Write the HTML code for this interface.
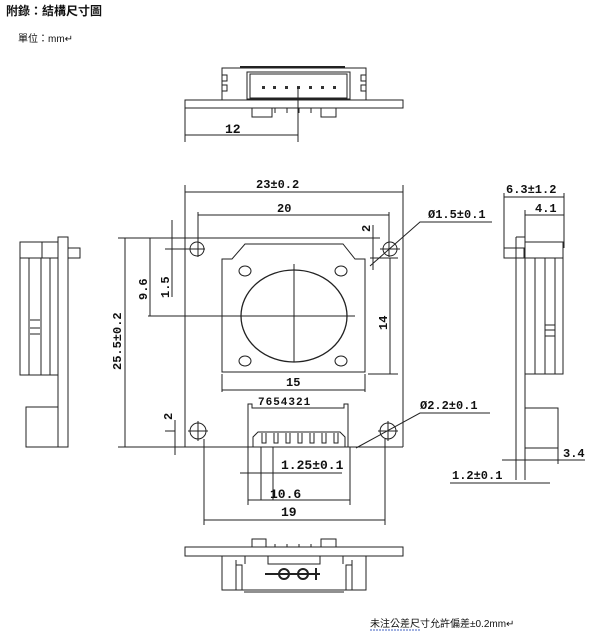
<!DOCTYPE html>
<html><head><meta charset="utf-8"><style>
body{margin:0;background:#fff;width:600px;height:635px;overflow:hidden}
svg{display:block}
text{font-family:"Liberation Serif","Noto Serif CJK SC",serif;fill:#111}
.d{font-family:"Liberation Mono","Noto Sans CJK SC",monospace;font-weight:bold;font-size:12px}
</style></head><body>
<svg width="600" height="635" viewBox="0 0 600 635" fill="none" stroke="#222" stroke-width="1">
<text x="6" y="15" style="font-family:'Liberation Sans','Noto Sans CJK TC',sans-serif;font-weight:bold;font-size:12px" stroke="none">附錄：結構尺寸圖</text>
<text x="18" y="42" style="font-family:'Liberation Sans','Noto Sans CJK TC',sans-serif;font-size:10px" stroke="none">單位：mm↵</text>

<!-- top view -->
<rect x="185" y="100" width="218" height="8"/>
<path d="M222 100V68h144v32 M222 75h5v6h-5 M366 75h-5v6h5 M222 85h5v6h-5 M366 85h-5v6h5"/>
<line x1="240" y1="67" x2="345" y2="67" stroke-width="2"/>
<rect x="247" y="72" width="103" height="27"/><rect x="250" y="74" width="97" height="24"/>
<g fill="#333" stroke="none"><rect x="262" y="86" width="3" height="3"/><rect x="273" y="86" width="3" height="3"/><rect x="285" y="86" width="3" height="3"/><rect x="297" y="86" width="3" height="3"/><rect x="309" y="86" width="3" height="3"/><rect x="321" y="86" width="3" height="3"/><rect x="333" y="86" width="3" height="3"/></g>
<path d="M252 108v9h20v-9 M321 108v9h15v-9 M275 108v5 M287 108v5 M299 108v5 M311 108v5"/>
<path d="M185 108v34 M298 87v55 M185 135h113"/>
<text x="225" y="133" class="d" stroke="none" style="font-size:13px">12</text>

<!-- main view -->
<path d="M185 185v262 M403 185v262 M118 238h262 M118 447h285"/>
<path d="M185 192h218"/><text x="256" y="188" class="d" stroke="none">23±0.2</text>
<path d="M198 212v45 M389 212v45 M198 215h191"/><text x="277" y="212" class="d" stroke="none">20</text>
<circle cx="197" cy="249" r="7"/><circle cx="390" cy="249" r="7"/>
<circle cx="198" cy="431" r="8"/><circle cx="388" cy="431" r="8"/>
<path d="M188 431h20 M198 421v20 M378 431h20 M388 421v20 M165 249h40 M380 249h20"/>
<path d="M222 372V259h10l13-15h98l12 15h10v113z"/>
<ellipse cx="245" cy="271" rx="6" ry="5"/><ellipse cx="341" cy="271" rx="6" ry="5"/>
<ellipse cx="245" cy="361" rx="6" ry="5"/><ellipse cx="341" cy="361" rx="6" ry="5"/>
<ellipse cx="294" cy="316" rx="53" ry="46" stroke-width="1.3"/>
<path d="M148 316h207 M294 264v98"/>
<path d="M125 238v209"/><text class="d" stroke="none" transform="translate(121,370) rotate(-90)">25.5±0.2</text>
<path d="M150 238v78"/><text class="d" stroke="none" transform="translate(147,300) rotate(-90)">9.6</text>
<path d="M172 220v77"/><text class="d" stroke="none" transform="translate(169,298) rotate(-90)">1.5</text>
<path d="M370 258h28 M368 374h30 M390 258v116"/><text class="d" stroke="none" transform="translate(387,330) rotate(-90)">14</text>
<path d="M222 374v18 M365 374v18 M222 390h143"/><text x="286" y="386" class="d" stroke="none">15</text>
<path d="M373 225v45"/><text class="d" stroke="none" transform="translate(370,232) rotate(-90)">2</text>
<path d="M370 266L420 222h72"/><text x="428" y="218" class="d" stroke="none">Ø1.5±0.1</text>
<path d="M248 447v-43h4v4h92v-4h4v43 M253 447v-10l5-5h82l5 5v10"/>
<path d="M262 433v10h4v-10 M274 433v10h4v-10 M286 433v10h4v-10 M298 433v10h4v-10 M310 433v10h4v-10 M322 433v10h4v-10 M334 433v10h4v-10"/>
<text x="258" y="405" class="d" stroke="none" style="font-size:11px;letter-spacing:1px">7654321</text>
<path d="M356 448L420 413h70"/><text x="420" y="409" class="d" stroke="none">Ø2.2±0.1</text>
<path d="M175 420v35 M165 431h10"/><text class="d" stroke="none" transform="translate(172,420) rotate(-90)">2</text>
<path d="M261 447v53 M273 447v53 M240 473h102"/><text x="281" y="469" class="d" stroke="none" style="font-size:13px">1.25±0.1</text>
<path d="M248 447v58 M350 447v58 M248 500h102"/><text x="270" y="498" class="d" stroke="none" style="font-size:13px">10.6</text>
<path d="M204 439v86 M385 439v86 M204 520h181"/><text x="281" y="516" class="d" stroke="none" style="font-size:13px">19</text>

<!-- bottom view -->
<rect x="185" y="547" width="218" height="9"/>
<path d="M252 547v-8h14v8 M321 547v-8h15v8 M275 547v-3 M287 547v-3 M299 547v-3 M311 547v-3"/>
<path d="M222 556v34h144v-34 M236 560v30 M352 560v30 M242 590v-25h-6 M346 590v-25h6 M245 556v8 M343 556v8 M268 556v8h52v-8 M244 592h100"/>
<circle cx="284" cy="574" r="5" stroke-width="2"/><circle cx="303" cy="574" r="5" stroke-width="2"/>
<path d="M265 574h55 M316 568v12" stroke-width="2"/>

<!-- left side view -->
<rect x="58" y="237" width="10" height="210"/>
<rect x="20" y="242" width="38" height="133"/>
<path d="M20 258h38 M42 242v16 M29 258v117 M41 258v117 M50 258v117 M68 248h12v10h-12 M30 320h10 M30 328h10 M30 334h10"/>
<rect x="26" y="407" width="32" height="40"/>

<!-- right side view -->
<path d="M516 237h9v243 M516 237v243"/>
<rect x="525" y="242" width="38" height="132"/>
<path d="M504 248h20v10h-20z M525 258h38 M535 258v116 M545 258v116 M555 258v116 M545 325h10 M545 330h10 M545 336h10"/>
<rect x="525" y="408" width="33" height="40"/>
<path d="M504 193v55 M564 193v55 M504 197h60 M525 210v32 M525 215h39"/>
<text x="506" y="193" class="d" stroke="none">6.3±1.2</text><text x="535" y="212" class="d" stroke="none">4.1</text>
<path d="M502 460h83 M558 448v16"/><text x="563" y="457" class="d" stroke="none">3.4</text>
<path d="M450 483h100"/><text x="452" y="479" class="d" stroke="none">1.2±0.1</text>

<text x="370" y="627" style="font-family:'Liberation Sans','Noto Sans CJK TC',sans-serif;font-size:10px" stroke="none">未注公差尺寸允許偏差±0.2mm↵</text>
<path d="M370 630h50" stroke="#4060c0" stroke-dasharray="2 1"/>
</svg>
</body></html>
